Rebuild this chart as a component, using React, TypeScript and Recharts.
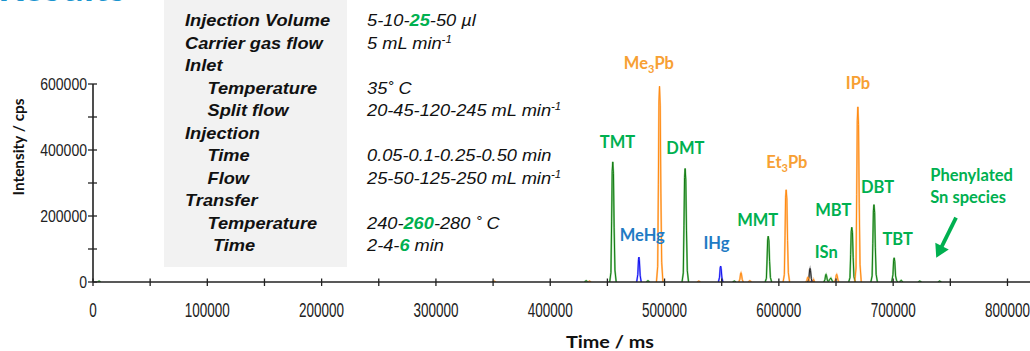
import React from 'react';
import { LineChart, Line, XAxis, YAxis, ReferenceDot, ReferenceLine } from 'recharts';

// ---------- data ----------
const X_TICKS = [0, 50000, 100000, 150000, 200000, 250000, 300000, 350000, 400000, 450000, 500000, 550000, 600000, 650000, 700000, 750000, 800000];
const X_LABELED = [0, 100000, 200000, 300000, 400000, 500000, 600000, 700000, 800000];
const Y_TICKS = [0, 100000, 200000, 300000, 400000, 500000, 600000];
const Y_LABELED = [0, 200000, 400000, 600000];

type Pt = [number, number] | null;

// Sn channel (green)
const SN_TRACE: Pt[] = [
  [3800, 0], [5300, 3000], [6800, 0], null,
  [429900, 0], [431400, 4000], [432900, 0], null,
  [452000, 0], [453100, 29000], [453700, 182000], [454200, 335000], [454700, 364000], [455300, 328000], [455900, 164000], [456600, 36000], [457700, 0], null,
  [484000, 0], [485500, 4000], [487000, 0], null,
  [515300, 0], [516400, 27500], [517000, 172000], [517500, 316500], [518000, 344000], [518600, 309600], [519200, 154800], [519900, 34400], [521000, 0], null,
  [559500, 0], [561000, 3000], [562500, 0], null,
  [588000, 0], [589100, 11100], [589700, 69400], [590200, 127600], [590700, 138700], [591300, 124800], [591900, 62400], [592600, 13900], [593700, 0], null,
  [639300, 0], [640300, 7000], [640900, 20900], [641300, 23200], [641700, 19700], [642400, 5800], [643300, 1000], [644500, 8000], [645500, 12000], [646500, 5000], [647500, 0], null,
  [661100, 0], [662200, 13300], [662800, 82900], [663300, 152500], [663800, 165800], [664400, 149200], [665000, 74600], [665700, 16600], [666800, 0], null,
  [680500, 0], [681600, 18700], [682200, 117200], [682700, 215600], [683200, 234300], [683800, 210900], [684400, 105400], [685100, 23400], [686200, 0], null,
  [698700, 0], [699800, 22000], [700400, 66000], [700900, 73300], [701400, 62300], [702100, 18300], [703000, 4000], [704200, 0], null,
  [705500, 0], [707000, 5000], [708500, 0], null,
  [721800, 0], [723300, 3000], [724800, 0], null,
  [739200, 0], [740700, 3000], [742200, 0],
];

// Pb channel (orange)
const PB_TRACE: Pt[] = [
  [349500, 0], [351000, 2500], [352500, 0], null,
  [432800, 0], [434300, 3000], [435800, 0], null,
  [492900, 0], [494000, 47400], [494600, 296500], [495100, 545600], [495600, 593000], [496200, 533700], [496800, 266900], [497500, 59300], [498600, 0], null,
  [528500, 0], [530000, 3000], [531500, 0], null,
  [564900, 0], [565900, 8400], [566500, 25200], [566900, 28000], [567300, 23800], [568000, 7000], [568900, 0], null,
  [573100, 0], [574600, 4000], [576100, 0], null,
  [603700, 0], [604800, 22400], [605400, 139800], [605900, 257100], [606400, 279500], [607000, 251600], [607600, 125800], [608300, 28000], [609400, 0], null,
  [623500, 0], [624500, 4500], [625100, 13500], [625500, 15000], [625900, 12800], [626600, 3800], [627500, 0], null,
  [629500, 0], [630400, 8000], [631300, 0], null,
  [648600, 0], [649600, 7000], [650200, 20900], [650600, 23200], [651000, 19700], [651700, 5800], [652600, 0], null,
  [666400, 0], [667500, 42400], [668100, 265300], [668600, 488200], [669100, 530600], [669700, 477500], [670300, 238800], [671000, 53100], [672100, 0],
];

// Hg channel (blue)
const HG_TRACE: Pt[] = [
  [475600, 0], [476600, 22600], [477200, 67900], [477600, 75400], [478000, 64100], [478700, 18900], [479600, 0], null,
  [547100, 0], [548100, 14500], [548700, 43400], [549100, 48200], [549500, 41000], [550200, 12100], [551100, 0], null,
  [627500, 0], [629000, 4000], [630500, 0],
];

// other channel (black)
const OTHER_TRACE: Pt[] = [
  [625300, 0], [626300, 12400], [626900, 37100], [627300, 41200], [627700, 35000], [628400, 10300], [629300, 0],
];

type PeakLab = { pre: string; sub?: string; post?: string; t: number; v: number; g: 'sn' | 'pb' | 'hg'; anchor?: 'start' | 'middle' };
const PEAK_LABELS: PeakLab[] = [
  { pre: 'TMT', t: 458800, v: 424200, g: 'sn' },
  { pre: 'Me', sub: '3', post: 'Pb', t: 486300, v: 663600, g: 'pb' },
  { pre: 'DMT', t: 518200, v: 406000, g: 'sn' },
  { pre: 'MeHg', t: 480500, v: 142400, g: 'hg' },
  { pre: 'IHg', t: 545400, v: 118200, g: 'hg' },
  { pre: 'MMT', t: 581500, v: 188800, g: 'sn' },
  { pre: 'Et', sub: '3', post: 'Pb', t: 607000, v: 363600, g: 'pb' },
  { pre: 'ISn', t: 641400, v: 92400, g: 'sn' },
  { pre: 'MBT', t: 647600, v: 219100, g: 'sn' },
  { pre: 'IPb', t: 669200, v: 603900, g: 'pb' },
  { pre: 'DBT', t: 686300, v: 287900, g: 'sn' },
  { pre: 'TBT', t: 704000, v: 129400, g: 'sn' },
  { pre: 'Phenylated', t: 732400, v: 324200, g: 'sn', anchor: 'start' },
  { pre: 'Sn species', t: 732400, v: 257500, g: 'sn', anchor: 'start' },
];
const ARROW_FROM = { t: 755000, v: 194800 };
const ARROW_TO = { t: 737700, v: 73600 };

const INFO_LABELS = ['Injection Volume', 'Carrier gas flow', 'Inlet', 'Temperature', 'Split flow', 'Injection', 'Time', 'Flow', 'Transfer', 'Temperature', 'Time'];
const INFO_INDENT = [0, 0, 0, 1, 1, 0, 1, 1, 0, 1, 2];
type Seg = { s: string; hl?: boolean; sup?: boolean };
const INFO_VALUES: Seg[][] = [
  [{ s: '5-10-' }, { s: '25', hl: true }, { s: '-50 µl' }],
  [{ s: '5 mL min' }, { s: '-1', sup: true }],
  [],
  [{ s: '35˚ C' }],
  [{ s: '20-45-120-245 mL min' }, { s: '-1', sup: true }],
  [],
  [{ s: '0.05-0.1-0.25-0.50 min' }],
  [{ s: '25-50-125-250 mL min' }, { s: '-1', sup: true }],
  [],
  [{ s: '240-' }, { s: '260', hl: true }, { s: '-280 ˚ C' }],
  [{ s: '2-4-' }, { s: '6', hl: true }, { s: ' min' }],
];

// ---------- styles ----------
const TEXT_COL = { sn: '#00B050', pb: '#F7A033', hg: '#1F7BC4' };
const LINE_COL = { sn: '#137A13', pb: '#FF8A10', hg: '#1010F0', other: '#222222' };
const UNDER_COL = { sn: '#8FD08F', pb: '#FFC993', hg: '#9A9AFF', other: '#A8A8A8' };
const HL_GREEN = '#00B050';
const LABEL_FONT = "Lato, 'Open Sans', 'DejaVu Sans', sans-serif";
const ARIAL = "'Liberation Sans', Arial, sans-serif";
const NARROW = "'Liberation Sans Narrow', 'Liberation Sans', Arial, sans-serif";

const toRows = (pts: Pt[]) => {
  let last = 0;
  return pts.map((p) => {
    if (p) { last = p[0]; return { t: p[0], v: p[1] }; }
    return { t: last, v: null as number | null };
  });
};

const XTick = (props: any) => {
  const { x, y, payload } = props;
  const val = payload.value as number;
  const s = String(val);
  return (
    <g>
      <line x1={x} x2={x} y1={y - 3.5} y2={y + 4} stroke="#222" strokeWidth={1.3} />
      {X_LABELED.includes(val) && (
        <text x={x} y={y + 34.5} textAnchor="middle" fontFamily={NARROW} fontSize={20} fill="#222"
          textLength={7.5 * s.length} lengthAdjust="spacingAndGlyphs">{s}</text>
      )}
    </g>
  );
};

const YTick = (props: any) => {
  const { x, y, payload } = props;
  const val = payload.value as number;
  const s = String(val);
  return (
    <g>
      <line x1={x - 5} x2={x + 4} y1={y} y2={y} stroke="#222" strokeWidth={1.3} />
      {Y_LABELED.includes(val) && (
        <text x={x - 6} y={y + 5.8} textAnchor="end" fontFamily={NARROW} fontSize={16} fill="#222"
          textLength={7.8 * s.length} lengthAdjust="spacingAndGlyphs">{s}</text>
      )}
    </g>
  );
};

const PeakText = ({ cx, cy, lab }: { cx: number; cy: number; lab: PeakLab }) => (
  <text x={cx} y={cy + 6} textAnchor={lab.anchor || 'middle'} fill={TEXT_COL[lab.g]} fontFamily={LABEL_FONT}
    fontWeight={700} fontSize={16.5}>
    <tspan>{lab.pre}</tspan>
    {lab.sub && <tspan dy={4} fontSize={11}>{lab.sub}</tspan>}
    {lab.post && <tspan dy={lab.sub ? -4 : 0}>{lab.post}</tspan>}
  </text>
);

const ArrowShape = (p: any) => {
  const { x1, y1, x2, y2 } = p;
  if ([x1, y1, x2, y2].some((n) => typeof n !== 'number' || isNaN(n))) return <g />;
  const dx = x2 - x1, dy = y2 - y1;
  const L = Math.hypot(dx, dy) || 1;
  const ux = dx / L, uy = dy / L;
  const hl = 13, hw = 7.5;
  const bx = x2 - ux * hl, by = y2 - uy * hl;
  return (
    <g>
      <line x1={x1} y1={y1} x2={bx + ux} y2={by + uy} stroke={HL_GREEN} strokeWidth={3.8} />
      <polygon points={`${x2},${y2} ${bx - uy * hw},${by + ux * hw} ${bx + uy * hw},${by - ux * hw}`} fill={HL_GREEN} />
    </g>
  );
};

const INFO_X = [185, 207.5, 213];

const TRACES: { key: keyof typeof LINE_COL; pts: Pt[] }[] = [
  { key: 'sn', pts: SN_TRACE },
  { key: 'hg', pts: HG_TRACE },
  { key: 'other', pts: OTHER_TRACE },
  { key: 'pb', pts: PB_TRACE },
];

export default function App() {
  return (
    <div style={{ position: 'absolute', left: 0, top: 0, width: 1030, height: 351, background: '#fff', overflow: 'hidden' }}>
      <div style={{ position: 'absolute', left: 0, top: 0 }}>
        <LineChart width={1030} height={351} margin={{ top: 84, right: 0, bottom: 0, left: 0 }}>
          <XAxis type="number" dataKey="t" domain={[0, 819700]} allowDataOverflow ticks={X_TICKS} interval={0}
            tick={<XTick />} tickSize={0} tickMargin={0} tickLine={false} height={69}
            axisLine={{ stroke: '#222', strokeWidth: 1.6 }} />
          <YAxis type="number" domain={[0, 600000]} allowDataOverflow ticks={Y_TICKS} interval={0}
            tick={<YTick />} tickSize={0} tickMargin={0} tickLine={false} width={93}
            axisLine={{ stroke: '#222', strokeWidth: 1.6 }} />
          {TRACES.map((tr) => (
            <Line key={tr.key + '-u'} data={toRows(tr.pts)} dataKey="v" type="linear" stroke={UNDER_COL[tr.key]} strokeWidth={1.9}
              dot={false} activeDot={false} connectNulls={false} isAnimationActive={false} />
          ))}
          {TRACES.map((tr) => (
            <Line key={tr.key} data={toRows(tr.pts)} dataKey="v" type="linear" stroke={LINE_COL[tr.key]} strokeWidth={1}
              dot={false} activeDot={false} connectNulls={false} isAnimationActive={false} />
          ))}
          {PEAK_LABELS.map((lab, i) => (
            <ReferenceDot key={i} x={lab.t} y={lab.v} r={1} ifOverflow="visible"
              shape={(p: any) => <PeakText cx={p.cx} cy={p.cy} lab={lab} />} />
          ))}
          <ReferenceLine ifOverflow="visible"
            segment={[{ x: ARROW_FROM.t, y: ARROW_FROM.v }, { x: ARROW_TO.t, y: ARROW_TO.v }]}
            shape={ArrowShape} />
        </LineChart>
      </div>
      <svg width={1030} height={351} style={{ position: 'absolute', left: 0, top: 0, pointerEvents: 'none' }}>
        <text x={-2} y={0.5} fontFamily={LABEL_FONT} fontWeight={700} fontSize={40} fill="#1A95CF">Results</text>
        <rect x={164} y={0} width={183} height={267} fill="#F2F2F2" />
        {INFO_LABELS.map((lab, i) => {
          const y = 26 + i * 22.5;
          return (
            <g key={i}>
              <text transform={`translate(${INFO_X[INFO_INDENT[i]]},${y}) scale(1.14,1)`} fontFamily={ARIAL}
                fontWeight={700} fontStyle="italic" fontSize={16} fill="#111">{lab}</text>
              {INFO_VALUES[i].length > 0 && (
                <text transform={`translate(367,${y}) scale(1.14,1)`} fontFamily={ARIAL} fontStyle="italic" fontSize={16} fill="#111">
                  {INFO_VALUES[i].map((seg, j) => (
                    <tspan key={j} fill={seg.hl ? HL_GREEN : '#111'} fontWeight={seg.hl ? 700 : 400}
                      fontSize={seg.sup ? 10 : 16} dy={seg.sup ? -6 : 0}>{seg.s}</tspan>
                  ))}
                </text>
              )}
            </g>
          );
        })}
        <text transform="translate(23.5,147) rotate(-90)" textAnchor="middle" fontFamily={LABEL_FONT} fontWeight={700}
          fontSize={16} fill="#111" textLength={97} lengthAdjust="spacingAndGlyphs">Intensity / cps</text>
        <text x={610} y={347.5} textAnchor="middle" fontFamily={LABEL_FONT} fontWeight={700}
          fontSize={17.5} fill="#111" textLength={88} lengthAdjust="spacingAndGlyphs">Time / ms</text>
      </svg>
    </div>
  );
}
